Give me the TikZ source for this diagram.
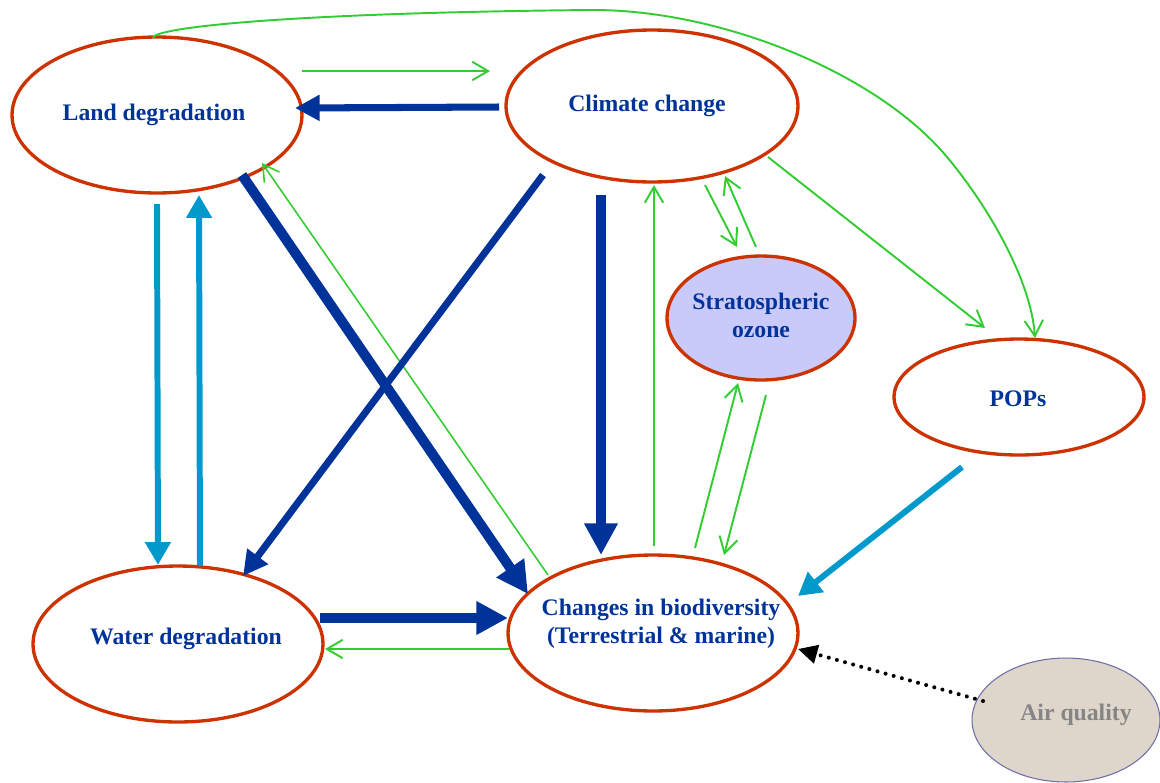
\documentclass[tikz,border=0pt]{standalone}
\usepackage{fontspec}
\setmainfont{Liberation Serif}
\usetikzlibrary{shapes.geometric,arrows.meta,calc}
\definecolor{tblue}{HTML}{003399}
\definecolor{dblue}{HTML}{003399}
\definecolor{lblue}{HTML}{0099CC}
\definecolor{lgreen}{HTML}{33CC33}
\definecolor{eborder}{HTML}{CC3300}
\definecolor{ozfill}{HTML}{CACAFA}
\definecolor{airfill}{HTML}{DED6CA}
\definecolor{airborder}{HTML}{6E6EA8}
\definecolor{airtext}{HTML}{858585}
\tikzset{
  ell/.style={ellipse, draw=eborder, line width=1.9pt, inner sep=0pt},
  lbl/.style={text=tblue, font=\fontsize{13.5}{16}\selectfont\bfseries, align=center, inner sep=0pt},
  garrow/.style={draw=lgreen, line width=1.1pt, -{Straight Barb[length=9pt,width=10.5pt]}},
  dbmid/.style={draw=dblue, line width=4pt, -{Triangle[length=14pt,width=14pt]}},
  dbthick/.style={draw=dblue, line width=5.7pt, -{Triangle[length=18pt,width=18pt]}},
  lbarrow/.style={draw=lblue, line width=3.4pt, -{Triangle[length=13pt,width=14pt]}},
  dotarrow/.style={draw=black, line width=2.3pt, line cap=round, dash pattern=on 0pt off 4.8pt, -{Triangle[length=11pt,width=10.5pt]}}
}
\begin{document}
\begin{tikzpicture}[x=0.02cm,y=-0.02cm]
\useasboundingbox (0,0) rectangle (1160,782);
% ellipses
\node[ell, minimum width=5.8cm, minimum height=3.12cm] (land) at (157,115) {};
\node[ell, minimum width=5.84cm, minimum height=3.04cm] (climate) at (652,106) {};
\node[ell, fill=ozfill, minimum width=3.76cm, minimum height=2.48cm] (ozone) at (761,318) {};
\node[ell, minimum width=5.0cm, minimum height=2.32cm] (pops) at (1019,397) {};
\node[ell, minimum width=5.8cm, minimum height=3.12cm] (water) at (178,644) {};
\node[ell, minimum width=5.8cm, minimum height=3.12cm] (bio) at (653,633) {};
\node[ellipse, draw=airborder, line width=0.6pt, fill=airfill, minimum width=3.76cm, minimum height=2.48cm] (air) at (1066,720) {};
% labels
\node[lbl] (landT) at (154,115) {Land degradation};
\node[lbl] (climateT) at (647,106) {Climate change};
\node[lbl] (ozoneT) at (761,315) {Stratospheric\\ozone};
\node[lbl] (popsT) at (1018,399) {POPs};
\node[lbl] (waterT) at (186,639) {Water degradation};
\node[lbl] (bioT) at (661,624) {Changes in biodiversity\\(Terrestrial \& marine)};
\node[lbl, text=airtext] (airT) at (1076,715) {Air quality};
% connectors
\draw[garrow] ($(land)+(145,-44)$) -- ($(climate)+(-162,-35)$);
\draw[dbmid] ($(climate)+(-153,1)$) -- ($(land)+(138,-7)$);
\draw[lbarrow] ($(land)+(0,89)$) -- ($(water)+(-20,-79)$);
\draw[lbarrow] ($(water)+(22,-78)$) -- ($(land)+(42,80)$);
\draw[dbthick] ($(land)+(85,60)$) -- ($(bio)+(-125,-39)$);
\draw[garrow, line width=0.9pt] ($(bio)+(-105,-58)$) -- ($(land)+(105,48)$);
\draw[dbmid] ($(climate)+(-109,69)$) -- ($(water)+(65,-68)$);
\draw[dbthick] ($(climate)+(-51,89)$) -- ($(bio)+(-52,-78)$);
\draw[garrow] ($(bio)+(1,-87)$) -- ($(climate)+(2,79)$);
\draw[garrow] ($(climate)+(53,79)$) -- ($(ozone)+(-24,-71)$);
\draw[garrow] ($(ozone)+(-5,-71)$) -- ($(climate)+(73,70)$);
\draw[garrow] ($(bio)+(42,-85)$) -- ($(ozone)+(-23,65)$);
\draw[garrow] ($(ozone)+(5,77)$) -- ($(bio)+(71,-78)$);
\draw[garrow] ($(climate)+(116,51)$) -- ($(pops)+(-34,-69)$);
\draw[garrow] ($(land)+(-4,-77)$) .. controls (152,28) and (280,13) .. (590,10)
   .. controls (720,9) and (877,73) .. (947,157)
   .. controls (988,206) and (1031,280) .. ($(pops)+(16,-59)$);
\draw[lbarrow] ($(pops)+(-57,70)$) -- ($(bio)+(145,-37)$);
\draw[dbthick] ($(water)+(142,-26)$) -- ($(bio)+(-145,-15)$);
\draw[garrow] ($(bio)+(-144,16)$) -- ($(water)+(147,5)$);
\draw[dotarrow] ($(air)+(-83,-19)$) -- ($(bio)+(145,16)$);
\end{tikzpicture}
\end{document}
